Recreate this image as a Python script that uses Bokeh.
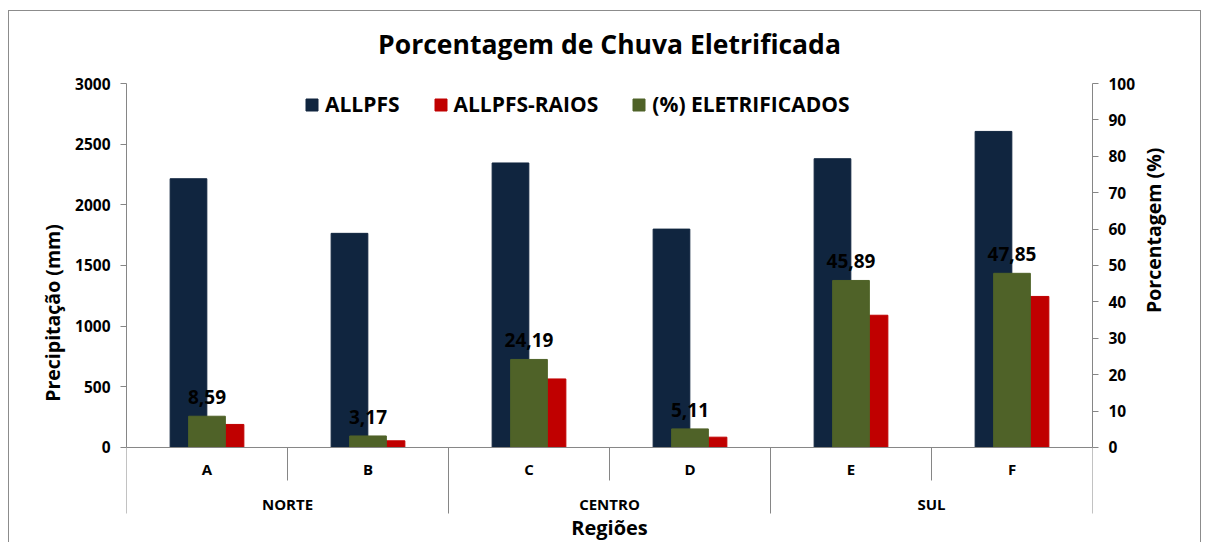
import math
from bokeh.plotting import figure
from bokeh.models import (ColumnDataSource, Range1d, LinearAxis, SingleIntervalTicker,
                          Legend, LegendItem, LabelSet, FactorRange, Span)
from bokeh.transform import dodge
from bokeh.core.properties import value
from bokeh.embed import file_html
from bokeh.resources import INLINE

# ---------------- data ----------------
regioes = ["NORTE", "NORTE", "CENTRO", "CENTRO", "SUL", "SUL"]
categorias = ["A", "B", "C", "D", "E", "F"]
allpfs = [2215, 1765, 2345, 1800, 2380, 2605]
allpfs_raios = [190, 55, 565, 85, 1090, 1245]
eletrificados = [8.59, 3.17, 24.19, 5.11, 45.89, 47.85]
series_names = ["ALLPFS", "ALLPFS-RAIOS", "(%) ELETRIFICADOS"]
left_ticks_interval = 500
right_ticks_interval = 10

NAVY = "#10253F"
RED = "#C00000"
GREEN = "#4F6228"
AXIS = "#868686"
FONT = "Open Sans"

rotulos = [f"{v:.2f}".replace(".", ",") for v in eletrificados]

src = ColumnDataSource(dict(cat=categorias, allpfs=allpfs, raios=allpfs_raios,
                            pct=eletrificados, lab=rotulos))

# primary range 0..3000; extended below 0 to hold the two-level category labels
Y_MAX = 3000
Y_MIN = -783
P_MAX = 100
P_MIN = Y_MIN * P_MAX / Y_MAX

p = figure(width=1205, height=542, output_backend="svg", toolbar_location=None,
           x_range=FactorRange(*categorias), y_range=Range1d(Y_MIN, Y_MAX),
           x_axis_location=None, y_axis_location=None,
           min_border_left=126, min_border_right=113, min_border_top=83, min_border_bottom=0,
           title="Porcentagem de Chuva Eletrificada")
p.extra_y_ranges = {"pct": Range1d(P_MIN, P_MAX)}
p.outline_line_color = None
p.xgrid.visible = False
p.ygrid.visible = False
p.border_fill_color = None
p.styles = {
    "background-image": ("linear-gradient(#8c8c8c,#8c8c8c),linear-gradient(#8c8c8c,#8c8c8c),"
                         "linear-gradient(#8c8c8c,#8c8c8c)"),
    "background-size": "1px 540px, 1193px 1px, 1px 540px",
    "background-position": "8px 10px, 8px 10px, 1200px 10px",
    "background-repeat": "no-repeat",
}

p.title.align = "center"
p.title.vertical_align = "middle"
p.title.text_font = FONT
p.title.text_font_size = "26.5px"
p.title.text_font_style = "bold"
p.title.text_color = "black"
p.title.standoff = 42

def style_axis(ax):
    ax.axis_line_color = AXIS
    ax.major_tick_line_color = AXIS
    ax.major_tick_out = 6
    ax.major_tick_in = 0
    ax.minor_tick_line_color = None
    ax.major_label_text_font = FONT
    ax.major_label_text_font_style = "bold"
    ax.major_label_text_font_size = "15.5px"
    ax.major_label_text_color = "black"
    ax.axis_label_text_font = FONT
    ax.axis_label_text_font_style = "bold"
    ax.axis_label_text_font_size = "19.5px"
    ax.axis_label_text_color = "black"

yl = LinearAxis(ticker=SingleIntervalTicker(interval=left_ticks_interval), bounds=(0, Y_MAX),
                axis_label="Precipitação (mm)")
style_axis(yl)
yl.major_label_standoff = 10
yl.axis_label_standoff = 6
p.add_layout(yl, "left")

yr = LinearAxis(y_range_name="pct", ticker=SingleIntervalTicker(interval=right_ticks_interval),
                bounds=(0, P_MAX), axis_label="Porcentagem (%)")
style_axis(yr)
yr.major_label_standoff = 10
yr.axis_label_standoff = 15
yr.axis_label_orientation = math.pi / 2
p.add_layout(yr, "right")

# ---------------- bars ----------------
W = 0.228
r1 = p.vbar(x=dodge("cat", -0.115, range=p.x_range), top="allpfs", bottom=0, width=W,
            source=src, fill_color=NAVY, line_color=NAVY)
r2 = p.vbar(x=dodge("cat", 0.115, range=p.x_range), top="raios", bottom=0, width=W,
            source=src, fill_color=RED, line_color=RED)
r3 = p.vbar(x="cat", top="pct", bottom=0, width=W, source=src, y_range_name="pct",
            fill_color=GREEN, line_color=GREEN)

labels = LabelSet(x="cat", y="pct", text="lab", source=src, y_range_name="pct",
                  text_align="center", text_baseline="middle", y_offset=19,
                  text_font=value(FONT), text_font_style="bold", text_font_size="19px",
                  text_color="black")
p.add_layout(labels)

# ---------------- category axis (two levels) ----------------
p.add_layout(Span(location=0, dimension="width", line_color=AXIS, line_width=1))

n = len(categorias)
bx, by = [], []
for i in range(n + 1):
    full = i == 0 or i == n or regioes[i] != regioes[i - 1]
    bx.append(i)
    by.append(-544 if full else -272)
p.segment(x0=bx, y0=[0] * len(bx), x1=bx, y1=by, line_color=AXIS, line_width=1)

p.text(x=categorias, y=[-181] * n, text=categorias, text_align="center", text_baseline="middle",
       text_font=value(FONT), text_font_style="bold", text_font_size="15px", text_color="black")

grupos, gx = [], []
for i, g in enumerate(regioes):
    if g not in grupos:
        grupos.append(g)
        gx.append([])
    gx[grupos.index(g)].append(i + 0.5)
gcx = [sum(v) / len(v) for v in gx]
p.text(x=gcx, y=[-462] * len(grupos), text=grupos, text_align="center", text_baseline="middle",
       text_font=value(FONT), text_font_style="bold", text_font_size="15px", text_color="black")

p.text(x=[n / 2], y=[-659], text=["Regiões"], text_align="center", text_baseline="middle",
       text_font=value(FONT), text_font_style="bold", text_font_size="20px", text_color="black")

# ---------------- legend ----------------
legend = Legend(items=[LegendItem(label=series_names[0], renderers=[r1]),
                       LegendItem(label=series_names[1], renderers=[r2]),
                       LegendItem(label=series_names[2], renderers=[r3])],
                orientation="horizontal", location=(178, 424),
                glyph_width=15, glyph_height=15, label_standoff=6, spacing=33,
                padding=0, margin=0, border_line_color=None, background_fill_alpha=0,
                label_text_font=FONT, label_text_font_style="bold",
                label_text_font_size="21px", label_text_color="black")
p.add_layout(legend)

open("out.html", "w").write(file_html(p, INLINE))
